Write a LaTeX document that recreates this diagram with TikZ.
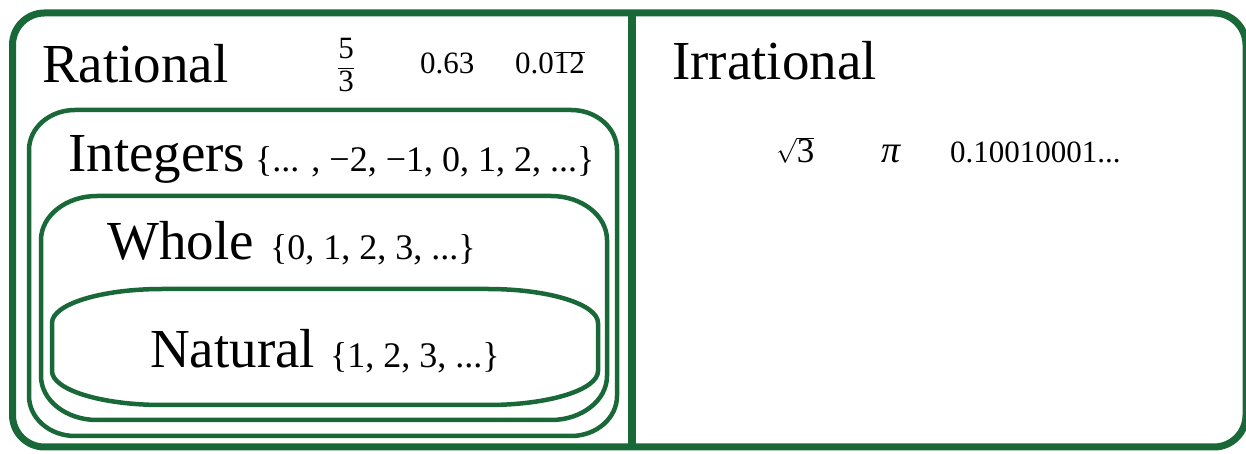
\documentclass[tikz,border=0pt]{standalone}
\usepackage{fontspec}
\setmainfont{Liberation Serif}
\definecolor{setgreen}{RGB}{25,105,56}
% x1 ybottom x2 ytop xradius yradius
\newcommand{\setoval}[6]{%
  \draw[setline] (#1+#5,#4) -- (#3-#5,#4)
    arc[start angle=90, end angle=0, x radius=#5, y radius=#6]
    -- (#3,#2+#6) arc[start angle=0, end angle=-90, x radius=#5, y radius=#6]
    -- (#1+#5,#2) arc[start angle=-90, end angle=-180, x radius=#5, y radius=#6]
    -- (#1,#4-#6) arc[start angle=180, end angle=90, x radius=#5, y radius=#6]
    -- cycle;}
\begin{document}
\begin{tikzpicture}[x=1pt, y=1pt,
    frame/.style={draw=setgreen, line width=7pt, rounded corners=32pt},
    setline/.style={draw=setgreen, line width=4.5pt},
    bigname/.style={anchor=base west, inner sep=0pt, font=\fontsize{55}{60}\selectfont},
    members/.style={anchor=base west, inner sep=0pt, font=\fontsize{36}{40}\selectfont},
    number/.style={anchor=base west, inner sep=0pt, font=\fontsize{31}{36}\selectfont}]
\useasboundingbox (0,0) rectangle (1246,454);
\draw[frame] (12.5,7) rectangle (1246,441);
\draw[setgreen, line width=8pt] (632,7) -- (632,441);
\setoval{29}{18}{617}{344}{46}{40}
\setoval{41}{34}{607}{258}{56}{44}
\setoval{52}{49}{598}{165}{110}{34}
\node[bigname] (rat) at (42,371) {Rational};
\node[number, anchor=center] (fiv) at (346,389) {\ensuremath{\displaystyle\frac{\mbox{5}}{\mbox{3}}}};
\node[number] (dec) at (420,380) {0.63};
\node[number] (rep) at (515,380) {0.0\ensuremath{\overline{\mbox{12}}}};
\node[bigname] (int) at (68,282) {Integers};
\node[members] (intset) at (255,282) {\{... , −2, −1, 0, 1, 2, ...\}};
\node[bigname] (whl) at (107,194) {Whole};
\node[members] (whlset) at (270,194) {\{0, 1, 2, 3, ...\}};
\node[bigname] (nat) at (150,86) {Natural};
\node[members] (natset) at (330,86) {\{1, 2, 3, ...\}};
\node[bigname] (irr) at (672,374) {Irrational};
\node[number, font=\fontsize{35}{40}\selectfont] (sqr) at (776,291) {\ensuremath{\sqrt{\mbox{3}}}};
\node[number, anchor=base, font=\fontsize{38}{42}\selectfont] (pii) at (891,291) {\textit{π}};
\node[number] (nrd) at (950,291) {0.10010001...};
\end{tikzpicture}
\end{document}
